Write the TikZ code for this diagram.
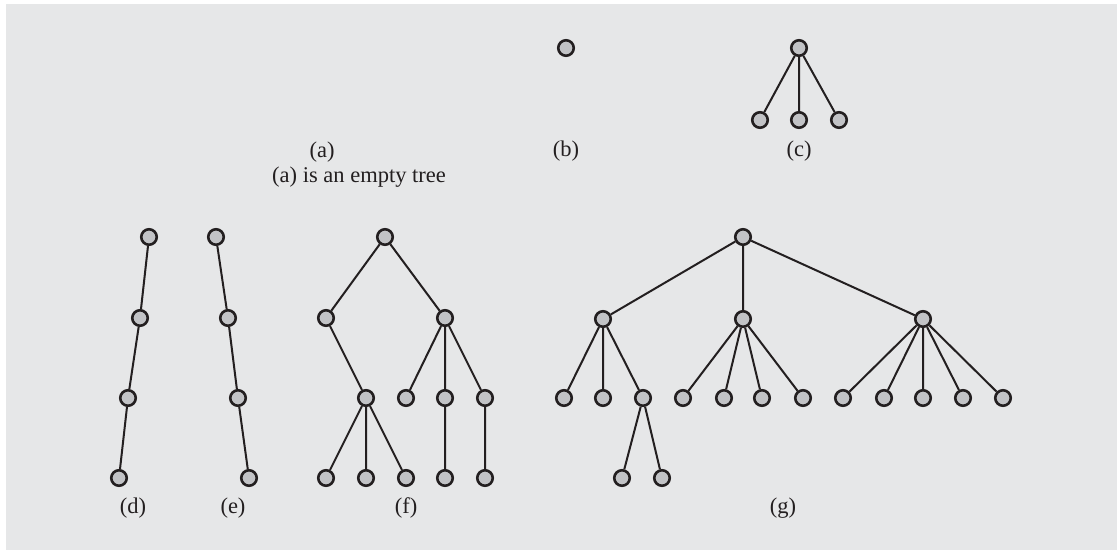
\documentclass[tikz,border=0pt]{standalone}
\usepackage{fontspec}
\setmainfont{Liberation Serif}
\definecolor{bggray}{HTML}{E6E7E8}
\definecolor{nodegray}{HTML}{C2C3C6}
\definecolor{ink}{HTML}{231F20}
\begin{document}
\begin{tikzpicture}[x=1pt,y=-1pt,
  tn/.style={circle,draw=ink,fill=nodegray,line width=2.6pt,minimum size=15.5pt,inner sep=0pt},
  lbl/.style={font=\fontsize{22.5}{27}\selectfont,text=ink,inner sep=0pt},
  edge/.style={draw=ink,line width=2pt}]
\useasboundingbox (0,0) rectangle (1119,551);
\fill[bggray] (6,4) rectangle (1117,550);
% labels top
\node[lbl] (la) at (322,152) {(a)};
\node[lbl] (la2) at (359,177) {(a) is an empty tree};
\node[lbl] (lb) at (566,151) {(b)};
\node[lbl] (lc) at (799,151) {(c)};
% (b)
\node[tn] (b1) at (566,48) {};
% (c)
\node[tn] (c0) at (799,48) {};
\node[tn] (c1) at (760,120) {};
\node[tn] (c2) at (799,120) {};
\node[tn] (c3) at (839,120) {};
\draw[edge] (c0)--(c1) (c0)--(c2) (c0)--(c3);
% (d)
\node[tn] (d1) at (149,237) {};
\node[tn] (d2) at (140,318) {};
\node[tn] (d3) at (128,398) {};
\node[tn] (d4) at (119,478) {};
\draw[edge] (d1)--(d2) (d2)--(d3) (d3)--(d4);
\node[lbl] (ld) at (133,508) {(d)};
% (e)
\node[tn] (e1) at (216,237) {};
\node[tn] (e2) at (228,318) {};
\node[tn] (e3) at (238,398) {};
\node[tn] (e4) at (249,478) {};
\draw[edge] (e1)--(e2) (e2)--(e3) (e3)--(e4);
\node[lbl] (le) at (233,508) {(e)};
% (f)
\node[tn] (f0) at (385,237) {};
\node[tn] (f1) at (326,318) {};
\node[tn] (f2) at (445,318) {};
\node[tn] (f11) at (366,398) {};
\node[tn] (f21) at (406,398) {};
\node[tn] (f22) at (445,398) {};
\node[tn] (f23) at (485,398) {};
\node[tn] (f111) at (326,478) {};
\node[tn] (f112) at (366,478) {};
\node[tn] (f113) at (406,478) {};
\node[tn] (f221) at (445,478) {};
\node[tn] (f231) at (485,478) {};
\draw[edge] (f0)--(f1) (f0)--(f2) (f1)--(f11) (f2)--(f21) (f2)--(f22) (f2)--(f23)
  (f11)--(f111) (f11)--(f112) (f11)--(f113) (f22)--(f221) (f23)--(f231);
\node[lbl] (lf) at (406,508) {(f)};
% (g)
\node[tn] (g0) at (743,237) {};
\node[tn] (g1) at (603,319) {};
\node[tn] (g2) at (743,319) {};
\node[tn] (g3) at (923,319) {};
\node[tn] (g11) at (564,398) {};
\node[tn] (g12) at (603,398) {};
\node[tn] (g13) at (643,398) {};
\node[tn] (g21) at (683,398) {};
\node[tn] (g22) at (724,398) {};
\node[tn] (g23) at (762,398) {};
\node[tn] (g24) at (803,398) {};
\node[tn] (g31) at (843,398) {};
\node[tn] (g32) at (884,398) {};
\node[tn] (g33) at (923,398) {};
\node[tn] (g34) at (963,398) {};
\node[tn] (g35) at (1003,398) {};
\node[tn] (g131) at (622,478) {};
\node[tn] (g132) at (662,478) {};
\draw[edge] (g0)--(g1) (g0)--(g2) (g0)--(g3)
  (g1)--(g11) (g1)--(g12) (g1)--(g13)
  (g2)--(g21) (g2)--(g22) (g2)--(g23) (g2)--(g24)
  (g3)--(g31) (g3)--(g32) (g3)--(g33) (g3)--(g34) (g3)--(g35)
  (g13)--(g131) (g13)--(g132);
\node[lbl] (lg) at (783,508) {(g)};
\end{tikzpicture}
\end{document}
